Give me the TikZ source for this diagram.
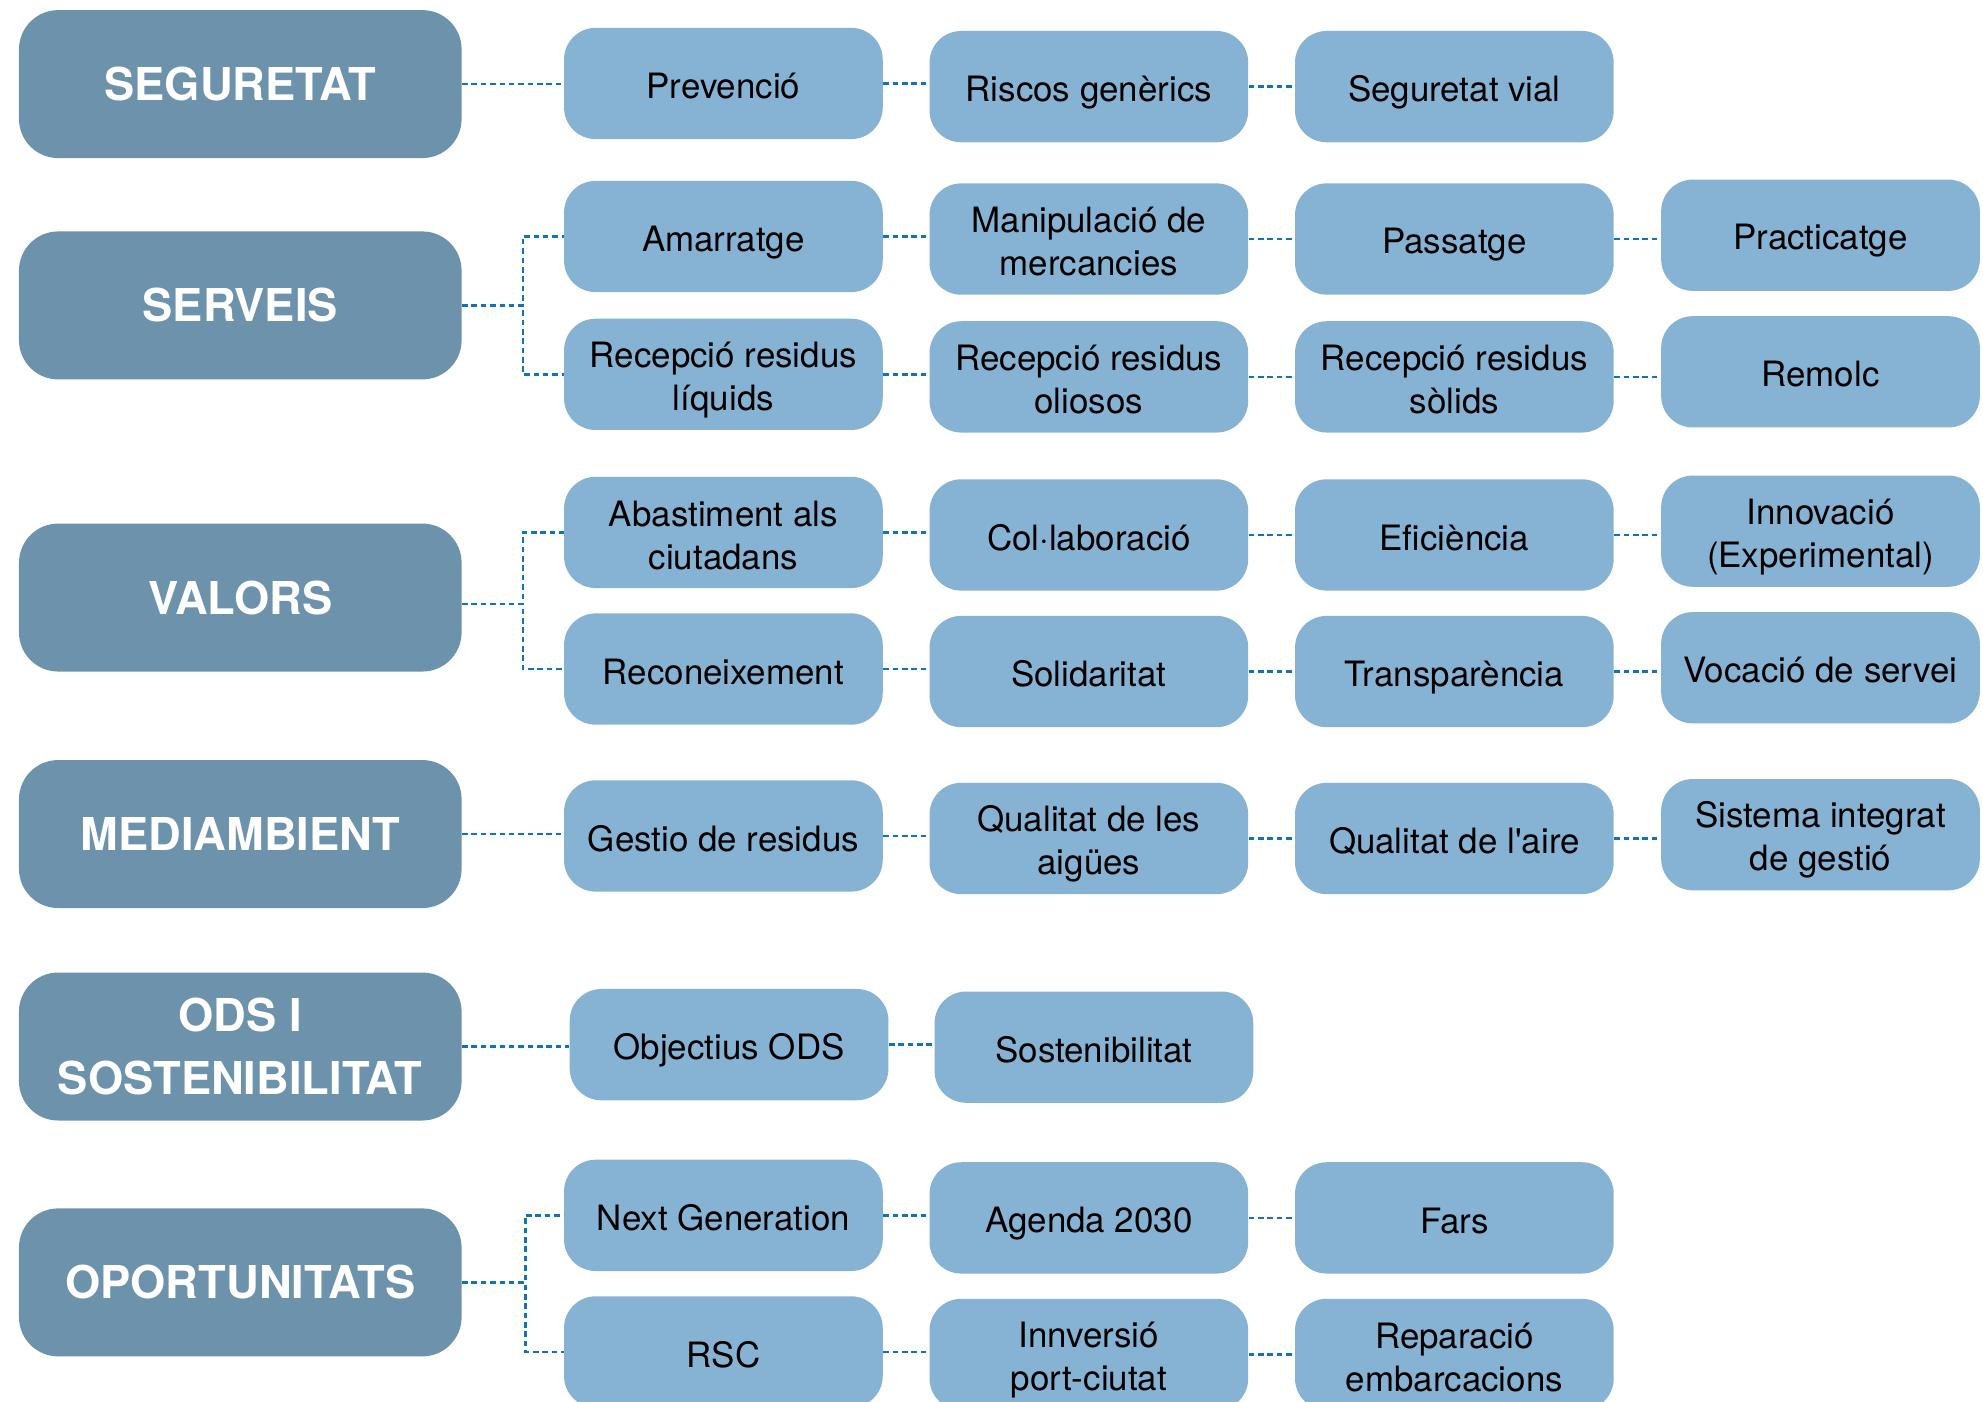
\documentclass[tikz,border=0pt]{standalone}
\usepackage{fontspec}
\setmainfont{TeX Gyre Heros}
\newfontfamily\rawfont{TeX Gyre Heros}
\newcommand\itemstrut{\rule[-2.5pt]{0pt}{17pt}}
\definecolor{bigfill}{HTML}{6D92AC}
\definecolor{smallfill}{HTML}{86B3D3}
\definecolor{linkcol}{HTML}{1272BA}
\tikzset{
	topic/.style={fill=bigfill, text=white, rounded corners=15.5pt, minimum width=175pt,
		minimum height=58.5pt, align=center, font=\fontsize{17.9}{25}\selectfont\bfseries},
	item/.style={fill=smallfill, text=black, rounded corners=12.5pt, minimum width=126pt,
		minimum height=44pt, align=center, font=\fontsize{13.8}{17}\selectfont,
		execute at begin node=\itemstrut, execute at end node=\itemstrut},
	twoline/.style={execute at begin node=\rule[-2.5pt]{0pt}{34pt}},
	link/.style={draw=linkcol, line width=1pt, dash pattern=on 2.2pt off 1.5pt}
}
\begin{document}
\begin{tikzpicture}[x=0.5pt, y=-0.5pt]
		\clip (0,0) rectangle (1568,1108);
		% blocs principals
		\node (seg) at (190,66.5) [topic] {SEGURETAT};
		\node (serv) at (190,241.5) [topic] {SERVEIS};
		\node (val) at (190,472.5) [topic] {VALORS};
		\node (med) at (190,659.5) [topic] {MEDIAMBIENT};
		\node (ods) at (190,827.5) [topic] {ODS I\\SOSTENIBILITAT};
		\node (opo) at (190,1014) [topic] {OPORTUNITATS};
		
		% seguretat
		\node (seg1) at (572,66) [item] {Prevenció};
		\node (seg2) at (861,68.5) [item] {Riscos genèrics};
		\node (seg3) at (1150,68.5) [item] {Seguretat vial};
		
		% serveis
		\node (servA1) at (572,187) [item] {Amarratge};
		\node (servA2) at (861,189) [item, twoline] {Manipulació de\\mercancies};
		\node (servA3) at (1150,189) [item] {Passatge};
		\node (servA4) at (1439.5,186) [item] {Practicatge};
		\node (servB1) at (572,296) [item, twoline] {Recepció residus\\líquids};
		\node (servB2) at (861,298) [item, twoline] {Recepció residus\\oliosos};
		\node (servB3) at (1150,298) [item, twoline] {Recepció residus\\sòlids};
		\node (servB4) at (1439.5,294) [item] {Remolc};
		
		% valors
		\node (valA1) at (572,421) [item, twoline] {Abastiment als\\ciutadans};
		\node (valA2) at (861,423) [item] {Col·laboració};
		\node (valA3) at (1150,423) [item] {Eficiència};
		\node (valA4) at (1439.5,420) [item, twoline] {Innovació\\(Experimental)};
		\node (valB1) at (572,529) [item] {Reconeixement};
		\node (valB2) at (861,531) [item] {Solidaritat};
		\node (valB3) at (1150,531) [item] {Transparència};
		\node (valB4) at (1439.5,528) [item] {Vocació de servei};
		
		% mediambient
		\node (med1) at (572,661) [item] {Gestio de residus};
		\node (med2) at (861,663) [item, twoline] {Qualitat de les\\aigües};
		\node (med3) at (1150,663) [item] {Qualitat de l{\rawfont '}aire};
		\node (med4) at (1439.5,660) [item, twoline] {Sistema integrat\\de gestió};
		
		% ods
		\node (ods1) at (576.5,826) [item] {Objectius ODS};
		\node (ods2) at (865,828) [item] {Sostenibilitat};
		
		% oportunitats
		\node (opoA1) at (572,961) [item] {Next Generation};
		\node (opoA2) at (861,963) [item] {Agenda 2030};
		\node (opoA3) at (1150,963) [item] {Fars};
		\node (opoB1) at (572,1069) [item] {RSC};
		\node (opoB2) at (861,1071) [item, twoline] {Innversió\\port-ciutat};
		\node (opoB3) at (1150,1071) [item, twoline] {Reparació\\embarcacions};
		
		% enllaços simples
		\draw [link] (seg.east) -- (seg.east -| seg1.west);
		\draw [link] (med.east) -- (med.east -| med1.west);
		\draw [link] (ods.east) -- (ods.east -| ods1.west);
		
		% enllaços amb branca
		\draw [link] (serv.east) -- ++(48,0) |- (servA1.west);
		\draw [link] (serv.east) -- ++(48,0) |- (servB1.west);
		\draw [link] (val.east) ++(0,5) -- ++(48,0) |- (valA1.west);
		\draw [link] (val.east) ++(0,5) -- ++(48,0) |- (valB1.west);
		\draw [link] (opo.east) -- ++(50,0) |- (opoA1.west);
		\draw [link] (opo.east) -- ++(50,0) |- (opoB1.west);
		
		% enllaços entre caixes
		\foreach \a/\b in {seg1/seg2, seg2/seg3, servA1/servA2, servA2/servA3, servA3/servA4,
			servB1/servB2, servB2/servB3, servB3/servB4, valA1/valA2, valA2/valA3, valA3/valA4,
			valB1/valB2, valB2/valB3, valB3/valB4, med1/med2, med2/med3, med3/med4,
			ods1/ods2, opoA1/opoA2, opoA2/opoA3, opoB1/opoB2, opoB2/opoB3}
			\draw [link] (\a.east) -- (\a.east -| \b.west);
		\end{tikzpicture}
\end{document}
